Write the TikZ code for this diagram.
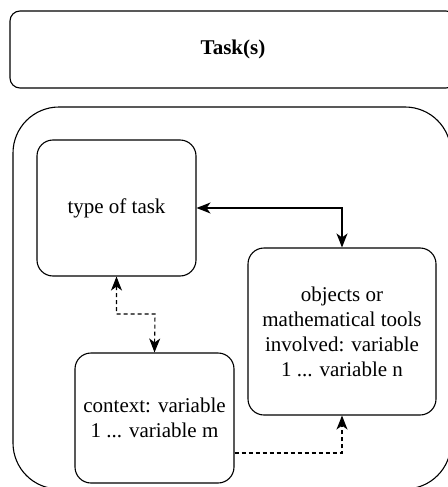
\documentclass[tikz,border=0pt]{standalone}
\usepackage{fontspec}
\setmainfont{Liberation Serif}
\usetikzlibrary{arrows.meta}
\begin{document}
\begin{tikzpicture}[x=1pt,y=-1pt,
  tip/.tip={Stealth[length=14pt,width=11pt,inset=4pt]},
  box/.style={draw,line width=1.1pt,rounded corners=#1,inner sep=0pt,align=center,
    font=\fontsize{21}{25}\selectfont},
  box/.default=16pt,
  link/.style={line width=1.1pt,tip-tip},
  dlink/.style={link,dash pattern=on 4pt off 3pt}]
\useasboundingbox (0,0) rectangle (447,487);
\node[box=10pt,minimum width=446pt,minimum height=77pt,font=\fontsize{21}{25}\selectfont\bfseries] (tasks) at (233,49.5) {Task(s)};
\node[box=46pt,minimum width=438pt,minimum height=382pt] (cont) at (232,298) {};
\node[box,minimum width=159pt,minimum height=136pt] (type) at (116.5,208) {type of task};
\node[box,minimum width=188pt,minimum height=167pt] (obj) at (342,331.5) {objects or\\mathematical tools\\involved: variable\\1 ... variable n};
\node[box,minimum width=159pt,minimum height=130pt] (ctx) at (154.5,418) {context: variable\\1 ... variable m};
\draw[link] (type.east) -| (obj.north);
\draw[dlink] (type.south) |- (155,314) -- (ctx.north);
\draw[dlink,-tip] (ctx.east |- 0,453) -| (obj.south);
\end{tikzpicture}
\end{document}
